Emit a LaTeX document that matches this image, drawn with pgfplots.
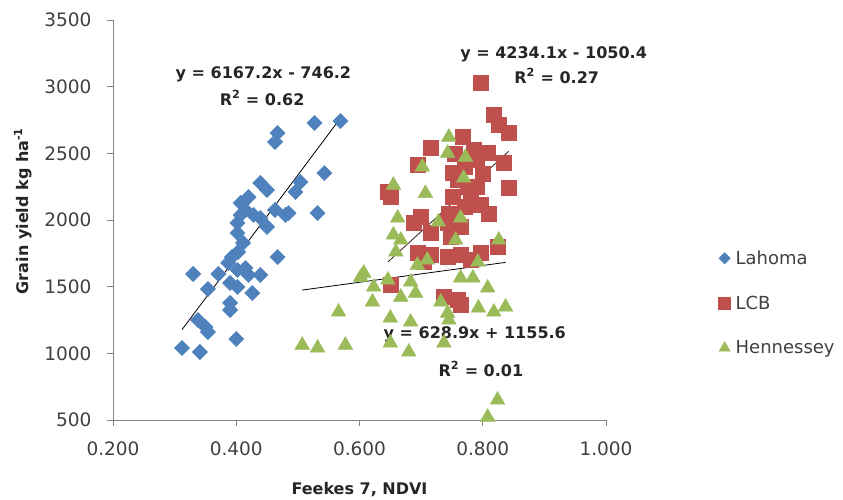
\documentclass[border=0pt]{standalone}
\usepackage{fontspec}
\setmainfont{DejaVu Sans}
\usepackage{pgfplots}
\pgfplotsset{compat=1.18}
\definecolor{lah}{HTML}{4F81BD}
\definecolor{lcb}{HTML}{C0504D}
\definecolor{hen}{HTML}{9BBB59}
\definecolor{axgray}{HTML}{868686}
\definecolor{txt}{HTML}{404040}
\definecolor{eqtxt}{HTML}{262626}
\newcommand\fs[1]{\fontsize{#1}{#1}\selectfont}
\begin{document}
\begin{tikzpicture}[x=1bp,y=1bp]
\useasboundingbox (-113,-80) rectangle (730,420);
\begin{axis}[
  at={(0,0)}, anchor=south west,
  scale only axis, width=493bp, height=400bp,
  xmin=0.2, xmax=1.0, ymin=500, ymax=3500,
  xtick={0.2,0.4,0.6,0.8,1.0}, ytick={500,1000,1500,2000,2500,3000,3500},
  axis x line*=bottom, axis y line*=left,
  axis line style={axgray, line width=0.9bp},
  tick style={axgray, line width=0.9bp},
  tick align=outside, major tick length=6bp,
  /pgf/number format/assume math mode=true,
  xticklabel style={/pgf/number format/.cd, fixed, fixed zerofill, precision=3, /tikz/.cd, yshift=-12bp},
  yticklabel style={/pgf/number format/.cd, fixed, 1000 sep={}, /tikz/.cd, xshift=-12bp},
  ticklabel style={font=\fs{18.5bp}, text=txt},
  xlabel={\textbf{Feekes 7, NDVI}},
  ylabel={\textbf{Grain yield kg ha\textsuperscript{-1}}},
  xlabel style={at={(axis description cs:0.5,-0.175)}, anchor=center, font=\fs{16bp}, text=eqtxt},
  ylabel style={at={(axis description cs:-0.183,0.5225)}, anchor=center, font=\fs{16bp}, text=eqtxt},
  clip=false,
  legend style={at={(axis description cs:1.222,0.2925)}, anchor=west, draw=none, fill=none,
    font=\fs{18bp}, text=txt, row sep=26bp, legend cell align=left,
    /tikz/every even column/.append style={column sep=0bp},
    nodes={inner xsep=5bp}},
]
\addplot[only marks, mark=square*, mark size=5.4bp, color=lah, mark options={rotate=45, fill=lah, draw=lah}, legend image post style={mark size=4bp}] coordinates {
(0.569,2742) (0.527,2728) (0.467,2652) (0.463,2585) (0.543,2352) (0.504,2285)
(0.496,2210) (0.439,2278) (0.450,2225) (0.420,2172) (0.407,2128) (0.415,2075)
(0.407,2038) (0.402,1978) (0.428,2038) (0.439,2015) (0.463,2075) (0.480,2038)
(0.485,2052) (0.532,2052) (0.450,1948) (0.402,1902) (0.411,1828) (0.467,1722)
(0.393,1722) (0.403,1760) (0.387,1678) (0.402,1625) (0.415,1640) (0.420,1588)
(0.439,1588) (0.330,1595) (0.371,1595) (0.390,1528) (0.402,1498) (0.354,1482)
(0.426,1452) (0.390,1378) (0.390,1325) (0.338,1250) (0.350,1198) (0.354,1160)
(0.312,1040) (0.341,1010) (0.400,1108)
};
\addlegendentry{Lahoma}
\addplot[only marks, mark=square*, mark size=7.5bp, color=lcb, mark options={fill=lcb, draw=lcb}, legend image post style={mark size=6bp}] coordinates {
(0.797,3028) (0.818,2788) (0.826,2712) (0.842,2652) (0.767,2622) (0.715,2540)
(0.785,2525) (0.808,2502) (0.834,2428) (0.694,2412) (0.751,2352) (0.842,2240)
(0.776,2248) (0.646,2210) (0.650,2172) (0.751,2172) (0.780,2172) (0.797,2112)
(0.699,2022) (0.688,1978) (0.743,1978) (0.764,1948) (0.715,1902) (0.748,1872)
(0.824,1798) (0.694,1752) (0.715,1738) (0.743,1722) (0.764,1738) (0.797,1752)
(0.780,1700) (0.704,1685) (0.650,1512) (0.737,1422) (0.759,1400) (0.764,1362)
(0.755,2500) (0.790,2450) (0.770,2400) (0.800,2350) (0.760,2300) (0.790,2250)
(0.770,2100) (0.810,2050) (0.745,2050)
};
\addlegendentry{LCB}
\addplot[only marks, mark=triangle*, mark size=8.5bp, color=hen, mark options={fill=hen, draw=hen}, legend image post style={mark size=6.5bp}] coordinates {
(0.745,2622) (0.743,2502) (0.772,2472) (0.702,2398) (0.769,2315) (0.655,2262)
(0.707,2200) (0.662,2015) (0.764,2015) (0.728,1985) (0.655,1888) (0.667,1850)
(0.756,1850) (0.826,1850) (0.659,1760) (0.710,1700) (0.694,1662) (0.792,1685)
(0.646,1550) (0.683,1535) (0.764,1565) (0.784,1565) (0.667,1422) (0.691,1452)
(0.808,1490) (0.732,1385) (0.793,1340) (0.818,1310) (0.837,1348) (0.743,1302)
(0.650,1265) (0.683,1235) (0.607,1602) (0.602,1572) (0.623,1498) (0.621,1385)
(0.566,1310) (0.507,1062) (0.532,1040) (0.577,1062) (0.650,1078) (0.680,1010)
(0.737,1078) (0.745,1250) (0.824,650) (0.808,522)
};
\addlegendentry{Hennessey}
\addplot[black, line width=0.8bp, no marks, forget plot] coordinates {(0.312,1178.0) (0.569,2762.9)};
\addplot[black!70!lcb, line width=0.8bp, no marks, forget plot] coordinates {(0.646,1684.8) (0.842,2514.7)};
\addplot[black, line width=0.8bp, no marks, forget plot] coordinates {(0.507,1474.5) (0.837,1682.0)};
\node[font=\fs{16bp}\bfseries, text=eqtxt] at (axis cs:0.444,3095) {y = 6167.2x - 746.2};
\node[font=\fs{16bp}\bfseries, text=eqtxt] at (axis cs:0.442,2915) {R\textsuperscript{2} = 0.62};
\node[font=\fs{16bp}\bfseries, text=eqtxt] at (axis cs:0.915,3245) {y = 4234.1x - 1050.4};
\node[font=\fs{16bp}\bfseries, text=eqtxt] at (axis cs:0.920,3080) {R\textsuperscript{2} = 0.27};
\node[font=\fs{16bp}\bfseries, text=eqtxt] at (axis cs:0.787,1145) {y = 628.9x + 1155.6};
\node[font=\fs{16bp}\bfseries, text=eqtxt] at (axis cs:0.797,882) {R\textsuperscript{2} = 0.01};
\end{axis}
\end{tikzpicture}
\end{document}
